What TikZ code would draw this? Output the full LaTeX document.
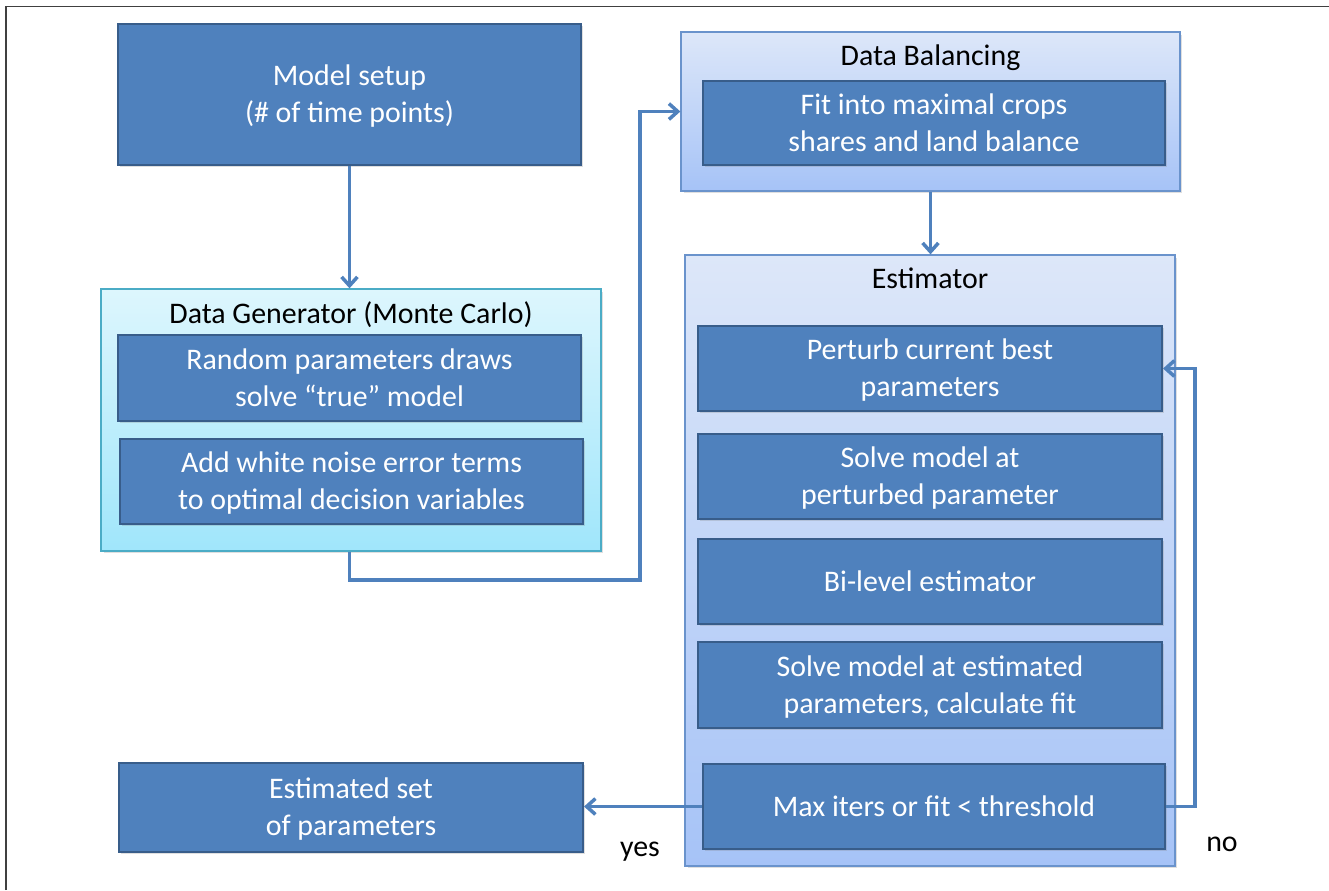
\documentclass[tikz,border=0pt]{standalone}
\usepackage{fontspec}
\setmainfont{Carlito}
\usepackage{xcolor}
\usetikzlibrary{arrows.meta,shadows}

\definecolor{boxblue}{HTML}{4F81BD}
\definecolor{boxedge}{HTML}{385D8A}
\definecolor{cyantop}{HTML}{DDF6FD}
\definecolor{cyanbot}{HTML}{A0E6FB}
\definecolor{cyanedge}{HTML}{4BACC6}
\definecolor{bluetop}{HTML}{DDE7F9}
\definecolor{bluebot}{HTML}{A6C3F7}
\definecolor{blueedge}{HTML}{6A93CC}

\tikzset{
  txt/.style={font=\fontsize{17}{21}\selectfont, text depth=0.8pt},
  stepbox/.style={txt, draw=boxedge, line width=1.2pt, fill=boxblue, text=white,
    align=center, inner sep=0pt,
    drop shadow={shadow xshift=0.04cm, shadow yshift=-0.04cm, opacity=0.25}},
  genframe/.style={draw=cyanedge, line width=0.8pt, top color=cyantop, bottom color=cyanbot,
    inner sep=0pt,
    drop shadow={shadow xshift=0.05cm, shadow yshift=-0.05cm, opacity=0.25}},
  blueframe/.style={draw=blueedge, line width=0.8pt, top color=bluetop, bottom color=bluebot,
    inner sep=0pt,
    drop shadow={shadow xshift=0.05cm, shadow yshift=-0.05cm, opacity=0.25}},
  conn/.style={draw=boxblue, line width=2pt, -{Straight Barb[length=5pt,width=9pt]}},
}

\begin{document}
\begin{tikzpicture}[x=0.02cm, y=-0.02cm]
\useasboundingbox (0,0) rectangle (1329,890);

% page frame
\draw[line width=1.1pt, black!75] (6,890) -- (6,6.5) -- (1329,6.5);

% Model setup
\node[stepbox, minimum width=9.26cm, minimum height=2.82cm] (setup) at (349.5,94.5)
  {Model setup\\(\# of time points)};

% Data generator
\node[genframe, minimum width=10cm, minimum height=5.24cm] (datagen) at (351,420) {};
\node[txt] (gentitle) at (351,313) {Data Generator (Monte Carlo)};
\node[stepbox, minimum width=9.26cm, minimum height=1.72cm] (draws) at (349.5,378)
  {Random parameters draws\\solve “true” model};
\node[stepbox, minimum width=9.26cm, minimum height=1.7cm] (noise) at (351.5,481.5)
  {Add white noise error terms\\to optimal decision variables};

% Data balancing
\node[blueframe, minimum width=9.98cm, minimum height=3.18cm] (balancing) at (930.5,111.5) {};
\node[txt] (baltitle) at (930.5,56) {Data Balancing};
\node[stepbox, minimum width=9.24cm, minimum height=1.68cm] (fitcrops) at (934,123)
  {Fit into maximal crops\\shares and land balance};

% Estimator
\node[blueframe, minimum width=9.8cm, minimum height=12.22cm] (estimator) at (930,560.5) {};
\node[txt] (esttitle) at (930,279) {Estimator};
\node[stepbox, minimum width=9.28cm, minimum height=1.7cm] (perturb) at (930,368.5)
  {Perturb current best\\parameters};
\node[stepbox, minimum width=9.28cm, minimum height=1.7cm] (solvepert) at (930,476.5)
  {Solve model at\\perturbed parameter};
\node[stepbox, minimum width=9.28cm, minimum height=1.7cm] (bilevel) at (930,581.5)
  {Bi-level estimator};
\node[stepbox, minimum width=9.28cm, minimum height=1.72cm] (solveest) at (930,685)
  {Solve model at estimated\\parameters, calculate fit};
\node[stepbox, minimum width=9.24cm, minimum height=1.7cm] (maxiters) at (934,806.5)
  {Max iters or fit < threshold};

% Result
\node[stepbox, minimum width=9.28cm, minimum height=1.78cm] (estimated) at (351,807.5)
  {Estimated set\\of parameters};

% yes / no
\node[txt] (yes) at (640,850) {yes};
\node[txt] (no) at (1222,845) {no};

% Connectors
\coordinate (genturn) at (640,580);
\coordinate (noturn) at (1195,806.5);
\draw[conn] (setup.south) -- (setup.south |- datagen.north);
\draw[conn] (datagen.south -| setup.south) |- (genturn) |- (balancing.west);
\draw[conn] (balancing.south) -- (balancing.south |- estimator.north);
\draw[conn] (maxiters.east) -- (noturn) |- (perturb.east);
\draw[conn] (maxiters.west) -- (maxiters.west -| estimated.east);
\end{tikzpicture}
\end{document}
